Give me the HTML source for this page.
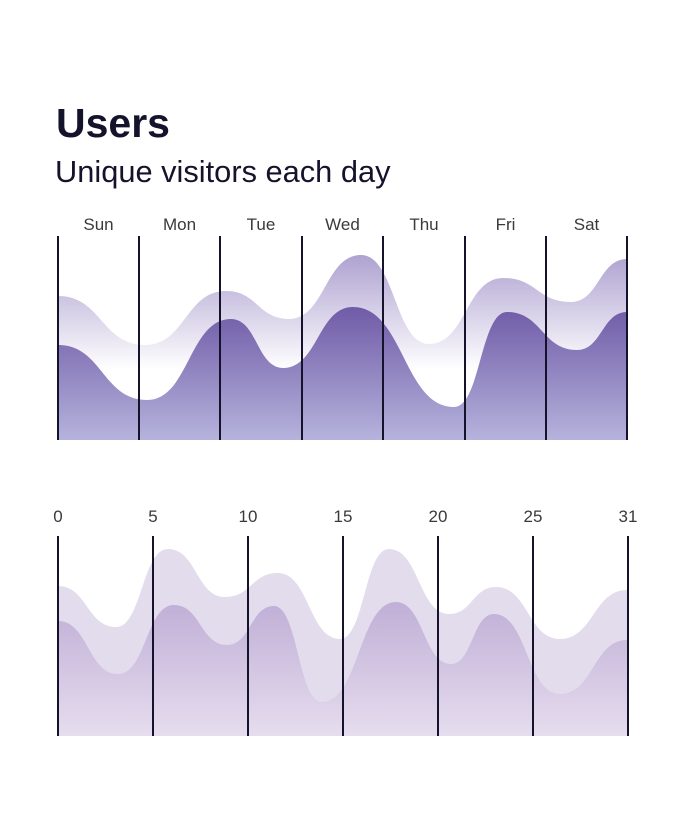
<!DOCTYPE html>
<html><head><meta charset="utf-8"><style>
body{margin:0;background:#fff;width:686px;height:832px;overflow:hidden;font-family:"Liberation Sans",sans-serif;}
</style></head><body>
<svg width="686" height="832" xmlns="http://www.w3.org/2000/svg">
<defs>
<linearGradient id="tb" x1="0" y1="250" x2="0" y2="370" gradientUnits="userSpaceOnUse"><stop offset="0" stop-color="#ab9ecf"/><stop offset="1" stop-color="#ffffff"/></linearGradient>
<linearGradient id="tf" x1="0" y1="300" x2="0" y2="440" gradientUnits="userSpaceOnUse"><stop offset="0" stop-color="#6c56a4"/><stop offset="1" stop-color="#b5b3dc"/></linearGradient>
<linearGradient id="bf" x1="0" y1="600" x2="0" y2="736" gradientUnits="userSpaceOnUse"><stop offset="0" stop-color="#bfaed6"/><stop offset="1" stop-color="#e6ddee"/></linearGradient>
</defs>
<text x="56" y="137" font-size="41" font-weight="bold" fill="#15132b">Users</text>
<text x="55" y="182" font-size="30.8" fill="#15132b">Unique visitors each day</text>
<g id="g" fill="#3a3a3a" font-size="17" text-anchor="middle"></g>
<path id="p1" fill="url(#tb)"/><path id="p2" fill="url(#tf)"/>
<path id="p3" fill="#e3dced"/><path id="p4" fill="url(#bf)"/>
<g id="lines" stroke="#15132b" stroke-width="2"></g>
</svg>
<script>
function path(pts,base){var d="M"+pts[0][0]+","+base+" L"+pts[0][0]+","+pts[0][1];
for(var i=1;i<pts.length;i++){var a=pts[i-1],b=pts[i],m=(a[0]+b[0])/2;d+=" C"+m+","+a[1]+" "+m+","+b[1]+" "+b[0]+","+b[1];}
return d+" L"+pts[pts.length-1][0]+","+base+" Z";}
document.getElementById("p1").setAttribute("d",path([[58,296],[145,345],[226,291],[289,319],[361,255],[429,344],[503,278],[571,302],[627,259]],440));
document.getElementById("p2").setAttribute("d",path([[58,345],[147,400],[231,319],[283,368],[353,307],[454,407],[507,312],[577,350],[627,312]],440));
document.getElementById("p3").setAttribute("d",path([[58,586],[116,627],[168,549],[225,597],[278,573],[340,639],[389,549],[449,614],[496,587],[560,639],[627,590]],736));
document.getElementById("p4").setAttribute("d",path([[58,621],[118,674],[174,605],[227,645],[274,606],[322,702],[396,602],[451,664],[494,614],[560,694],[627,640]],736));
var ns="http://www.w3.org/2000/svg",L=document.getElementById("lines"),G=document.getElementById("g");
function line(x,y1,y2){var l=document.createElementNS(ns,"line");l.setAttribute("x1",x);l.setAttribute("x2",x);l.setAttribute("y1",y1);l.setAttribute("y2",y2);L.appendChild(l);}
function txt(x,y,s){var t=document.createElementNS(ns,"text");t.setAttribute("x",x);t.setAttribute("y",y);t.textContent=s;G.appendChild(t);}
var tx=[58,139,220,302,383,465,546,627],days=["Sun","Mon","Tue","Wed","Thu","Fri","Sat"];
tx.forEach(function(x,i){line(x,236,440);if(i<7)txt((x+tx[i+1])/2,230,days[i]);});
var bx=[58,153,248,343,438,533,628],nums=["0","5","10","15","20","25","31"];
bx.forEach(function(x,i){line(x,536,736);txt(x,522,nums[i]);});
</script>
</body></html>
